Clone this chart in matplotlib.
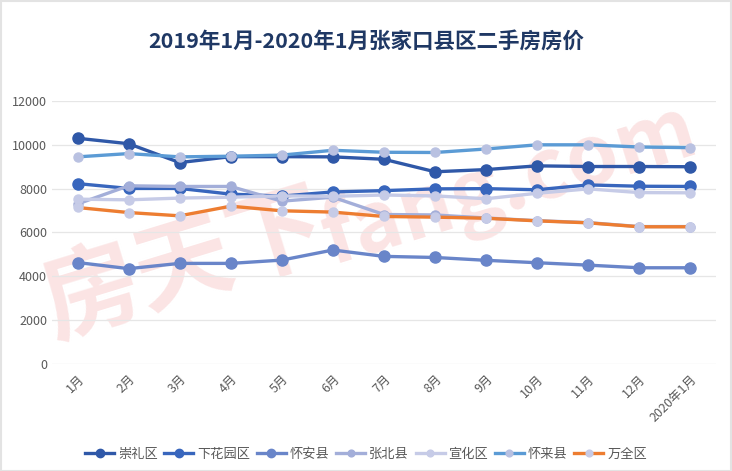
import matplotlib
matplotlib.use("Agg")
from matplotlib import pyplot
from matplotlib.patches import Rectangle

pyplot.rcParams['font.family'] = ['Noto Sans CJK SC', 'DejaVu Sans']

months = ["1月", "2月", "3月", "4月", "5月", "6月", "7月", "8月", "9月",
          "10月", "11月", "12月", "2020年1月"]

chongli = [10300, 10050, 9190, 9460, 9460, 9450, 9340, 8770, 8870, 9040, 9010, 9010, 9000]
xiahuayuan = [8230, 8010, 8010, 7750, 7660, 7850, 7910, 7990, 8000, 7950, 8170, 8110, 8100]
huaian = [4630, 4350, 4590, 4590, 4740, 5200, 4910, 4860, 4730, 4620, 4510, 4390, 4390]
zhangbei = [7300, 8130, 8100, 8100, 7430, 7610, 6820, 6800, 6660, 6540, 6450, 6270, 6270]
xuanhua = [7520, 7490, 7570, 7610, 7670, 7650, 7710, 7670, 7540, 7790, 7990, 7820, 7810]
huailai = [9450, 9600, 9450, 9480, 9530, 9750, 9660, 9650, 9810, 10000, 10000, 9900, 9870]
wanquan = [7140, 6910, 6760, 7200, 6990, 6930, 6730, 6700, 6650, 6530, 6440, 6260, 6260]

series = [
    ("崇礼区", chongli, "#2f58a8", "#2f58a8", 8),
    ("下花园区", xiahuayuan, "#3866bd", "#3866bd", 8),
    ("怀安县", huaian, "#6985c9", "#6985c9", 8),
    ("张北县", zhangbei, "#a3aed9", "#a3aed9", 6.5),
    ("宣化区", xuanhua, "#c6cbe7", "#c6cbe7", 6.5),
    ("怀来县", huailai, "#5b9bd5", "#b9c1e1", 6.5),
    ("万全区", wanquan, "#ed7d31", "#c6cbe7", 6.5),
]

fig = pyplot.figure(figsize=(7.32, 4.71), dpi=100)
ax = fig.add_axes([0.071, 0.2272, 0.907, 0.5584])

x = list(range(len(months)))
for name, vals, color, mcolor, ms in series:
    ax.plot(x, vals, color=color, lw=2.4, marker="o", markersize=ms,
            markerfacecolor=mcolor, markeredgecolor=mcolor, label=name, zorder=3)

# faint watermark behind the lines
ax.text(0.20, 0.37, "房天下", transform=ax.transAxes, fontsize=70,
        fontweight="bold", color="#fbe4e4", rotation=17,
        ha="center", va="center", zorder=1, clip_on=False)
ax.text(0.69, 0.68, "fang.com", transform=ax.transAxes, fontsize=60,
        fontweight="bold", fontstyle="italic", color="#fbe4e4", rotation=17,
        ha="center", va="center", zorder=1, clip_on=False)

ax.set_xlim(-0.5, len(months) - 0.5)
ax.set_ylim(0, 12000)
ax.set_yticks(range(0, 12001, 2000))
ax.set_xticks(x)
ax.set_xticklabels(months, rotation=45, ha="right", rotation_mode="anchor")
ax.tick_params(axis="both", length=0, labelsize=9, colors="#595959")
ax.tick_params(axis="x", pad=6)
ax.grid(axis="y", color="#e6e6e6", lw=0.9, zorder=0)
for s in ax.spines.values():
    s.set_visible(False)

fig.text(0.5, 0.912, "2019年1月-2020年1月张家口县区二手房房价", ha="center", va="center",
         fontsize=15.5, fontweight="bold", color="#1f3864")

leg = fig.legend(loc="center", bbox_to_anchor=(0.5, 0.036), ncol=7, frameon=False,
                 fontsize=9.5, handlelength=2.2, handletextpad=0.3, columnspacing=0.5,
                 markerscale=0.75)
for t in leg.get_texts():
    t.set_color("#595959")

fig.patches.append(Rectangle((0.001, 0.001), 0.997, 0.997, transform=fig.transFigure,
                             fill=False, edgecolor="#e3e3e3", lw=1.5))

fig.savefig("out.png", dpi=100)
